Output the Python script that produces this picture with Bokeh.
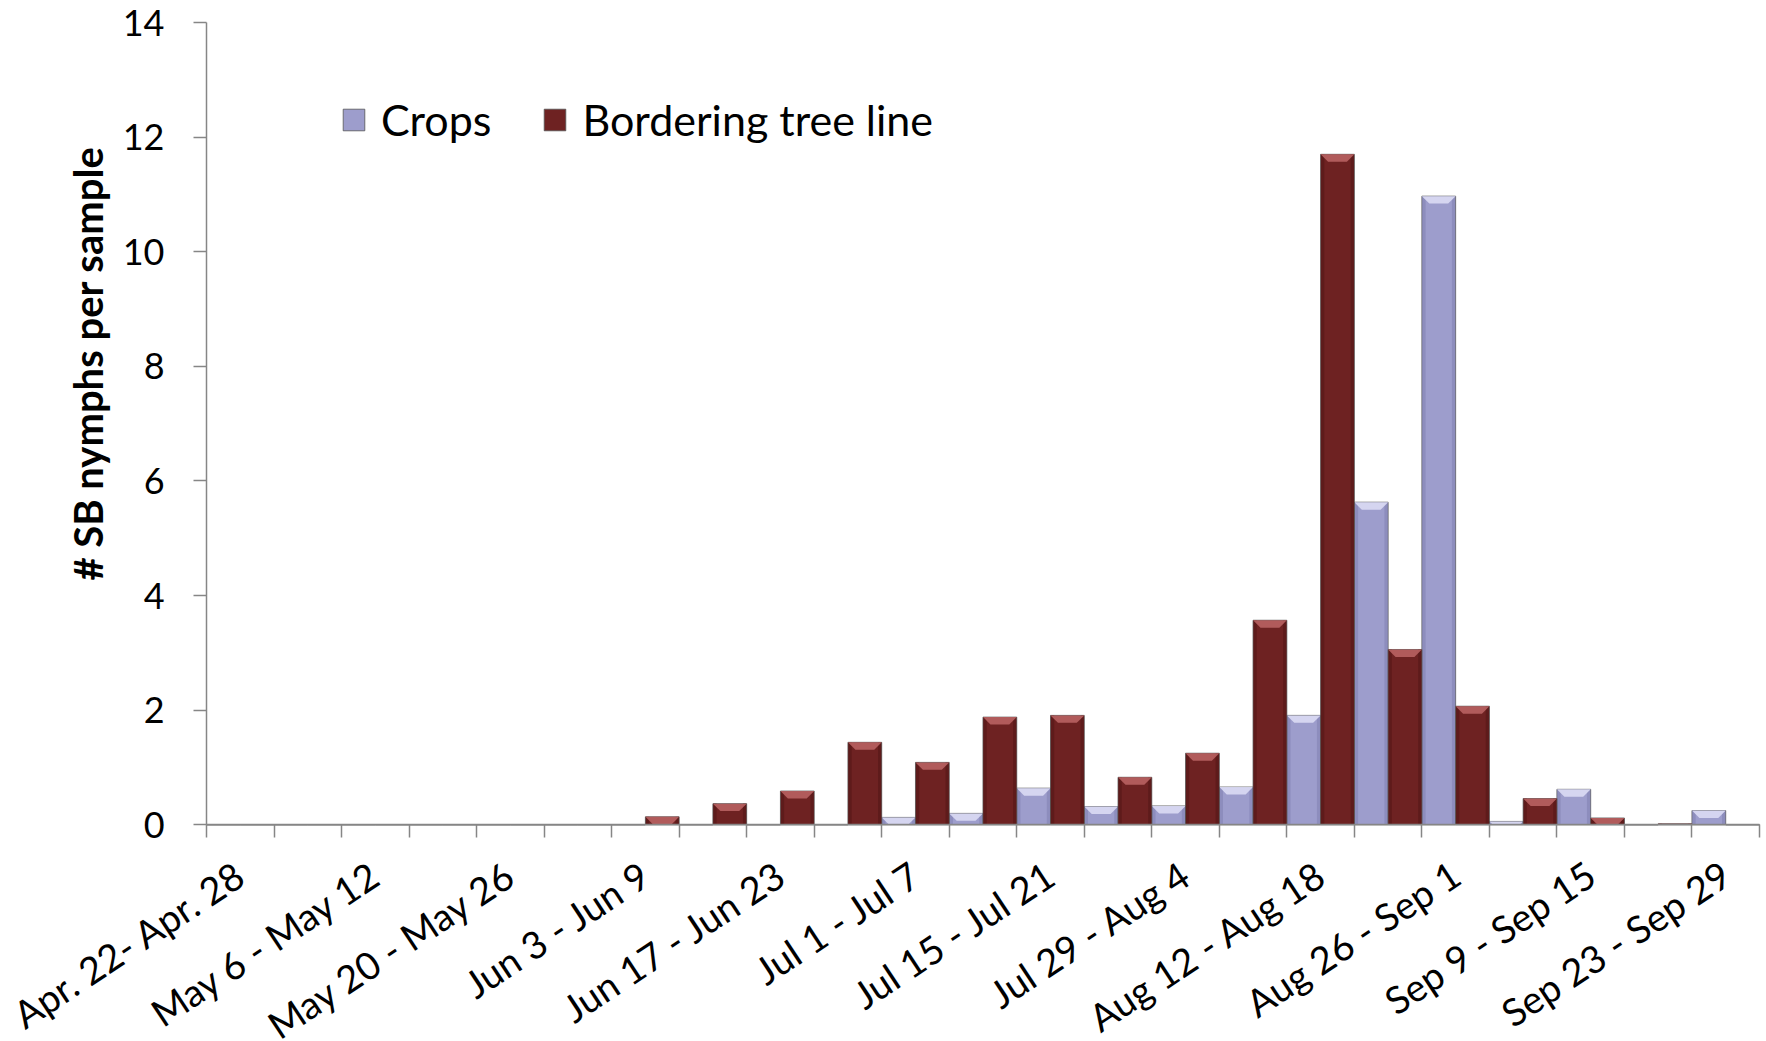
import math
import numpy as np
from bokeh.plotting import figure
from bokeh.models import ColumnDataSource, FixedTicker, Legend, LegendItem, Range1d, Label
from bokeh.embed import file_html
from bokeh.resources import INLINE

# ---- data ----
weeks = ["Apr. 22- Apr. 28", "Apr. 29 - May 5", "May 6 - May 12", "May 13 - May 19",
         "May 20 - May 26", "May 27 - Jun 2", "Jun 3 - Jun 9", "Jun 10 - Jun 16",
         "Jun 17 - Jun 23", "Jun 24 - Jun 30", "Jul 1 - Jul 7", "Jul 8 - Jul 14",
         "Jul 15 - Jul 21", "Jul 22 - Jul 28", "Jul 29 - Aug 4", "Aug 5 - Aug 11",
         "Aug 12 - Aug 18", "Aug 19 - Aug 25", "Aug 26 - Sep 1", "Sep 2 - Sep 8",
         "Sep 9 - Sep 15", "Sep 16 - Sep 22", "Sep 23 - Sep 29"]
crops = [0, 0, 0, 0, 0, 0, 0, 0, 0, 0, 0.13, 0.20, 0.64, 0.32, 0.33, 0.66,
         1.91, 5.63, 10.97, 0.06, 0.62, 0, 0.25]
border = [0, 0, 0, 0, 0, 0, 0.14, 0.37, 0.59, 1.44, 1.09, 1.88, 1.91, 0.83, 1.25, 3.57,
          11.70, 3.06, 2.07, 0.46, 0.12, 0.02, 0]
y_ticks = [0, 2, 4, 6, 8, 10, 12, 14]
y_max = 14
series_names = ["Crops", "Bordering tree line"]
y_title = "# SB nymphs per sample"

CROP_FILL = "#9d9dcc"
CROP_SIDE = "#7f7fb0"
CROP_TOP = "#dcdcf4"
RED_FILL = "#6e2222"
RED_SIDE = "#521616"
RED_TOP = "#b86262"

FONT = "Lato"
n = len(weeks)
idx = np.arange(n)

# The frame fills the whole canvas so that the rotated category labels and the
# y tick labels (drawn by axes pinned at x=0 / y=0) are never clipped.
X_LOW, X_HIGH = -3.051, n + 0.104
Y_LOW, Y_HIGH = -3.78, y_max + 0.384
p = figure(width=1766, height=1041, output_backend="svg", toolbar_location=None,
           x_range=Range1d(X_LOW, X_HIGH), y_range=Range1d(Y_LOW, Y_HIGH),
           min_border_left=0, min_border_right=0, min_border_top=0, min_border_bottom=0)
p.outline_line_color = None
p.grid.visible = False
p.background_fill_color = "white"


def draw_series(vals, offset, fill, side, top):
    vals = np.asarray(vals, dtype=float)
    xc = idx + offset
    src = ColumnDataSource(dict(x=xc, top=vals))
    r = p.vbar(x="x", top="top", width=0.5, bottom=0, source=src,
               fill_color=fill, line_color="#555555", line_width=1, line_alpha=0.8)
    mask = vals > 0
    ssrc = ColumnDataSource(dict(xl=xc[mask] - 0.22, xr=xc[mask] + 0.22, top=vals[mask]))
    p.vbar(x="xl", top="top", width=0.05, bottom=0, source=ssrc,
           fill_color=side, fill_alpha=0.55, line_color=None)
    p.vbar(x="xr", top="top", width=0.05, bottom=0, source=ssrc,
           fill_color=side, fill_alpha=0.55, line_color=None)
    xs, ys = [], []
    for x, v in zip(xc[mask], vals[mask]):
        h = min(0.13, v)
        d = h * 0.85
        xs.append([x - 0.25, x + 0.25, x + 0.25 - d, x - 0.25 + d])
        ys.append([v, v, v - h, v - h])
    p.patches(xs, ys, fill_color=top, fill_alpha=0.9, line_color=None)
    return r


r_crops = draw_series(crops, 0.25, CROP_FILL, CROP_SIDE, CROP_TOP)
r_border = draw_series(border, 0.75, RED_FILL, RED_SIDE, RED_TOP)

# x axis pinned at y=0; boundaries as minor ticks, every-other-week labels at centres
xax = p.xaxis[0]
xax.fixed_location = 0
xax.bounds = (0, n)
label_pos = [float(i) + 0.5 for i in range(0, n, 2)]
xax.ticker = FixedTicker(ticks=label_pos, minor_ticks=list(range(n + 1)))
xax.major_label_overrides = {pos: weeks[int(pos - 0.5)] for pos in label_pos}
xax.major_tick_out = 0
xax.major_tick_in = 0
xax.minor_tick_out = 13
xax.minor_tick_in = 0
xax.minor_tick_line_color = "#868686"
xax.minor_tick_line_width = 1.5
xax.axis_line_color = "#868686"
xax.axis_line_width = 1.5
xax.major_label_orientation = 0.585
xax.major_label_standoff = 32
xax.major_label_text_font = FONT
xax.major_label_text_font_size = "38px"
xax.major_label_text_color = "black"

# y axis pinned at x=0
yax = p.yaxis[0]
yax.fixed_location = 0
yax.bounds = (0, y_max)
yax.ticker = FixedTicker(ticks=y_ticks, minor_ticks=[])
yax.major_tick_out = 13
yax.major_tick_in = 0
yax.major_tick_line_color = "#868686"
yax.major_tick_line_width = 1.5
yax.axis_line_color = "#868686"
yax.axis_line_width = 1.5
yax.major_label_standoff = 29
yax.major_label_text_font = FONT
yax.major_label_text_font_size = "36px"
yax.major_label_text_color = "black"

p.add_layout(Label(x=-1.748, y=8.05, text=y_title, angle=math.pi / 2,
                   text_align="center", text_baseline="middle",
                   text_font=FONT, text_font_size="40px", text_font_style="bold",
                   text_color="black"))

legend = Legend(items=[LegendItem(label=series_names[0], renderers=[r_crops]),
                       LegendItem(label=series_names[1], renderers=[r_border])],
                orientation="horizontal", location=(340, 896),
                glyph_width=27, glyph_height=27, label_standoff=14, spacing=50,
                padding=0, margin=0, border_line_alpha=0, background_fill_alpha=0,
                label_text_font=FONT, label_text_font_size="43px", label_text_color="black")
p.add_layout(legend)

open("out.html", "w").write(file_html(p, INLINE))
